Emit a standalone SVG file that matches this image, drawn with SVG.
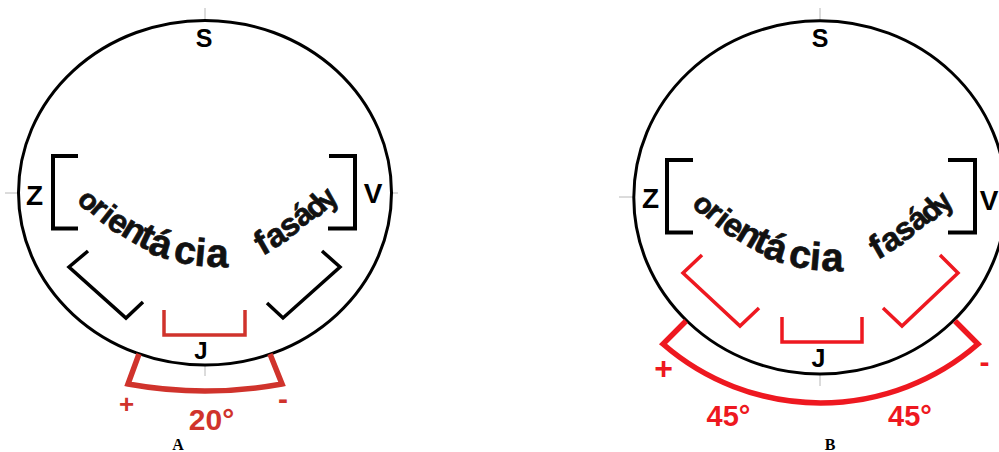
<svg xmlns="http://www.w3.org/2000/svg" width="999" height="452" viewBox="0 0 999 452">
<style>
.ring{fill:none;stroke:#000;stroke-width:3}
.tick{stroke:#b8b8b8;stroke-width:1}
.brk{fill:none;stroke:#000;stroke-width:4;stroke-linejoin:miter}
.sbrk{fill:none;stroke:#000;stroke-width:3.5;stroke-linejoin:miter}
.rA{fill:none;stroke:#d0332c;stroke-width:3.5;stroke-linejoin:miter}
.rB{fill:none;stroke:#ee1820;stroke-width:3.5;stroke-linejoin:miter}
.arcA{fill:none;stroke:#d0332c;stroke-width:5.5;stroke-linejoin:miter}
.arcB{fill:none;stroke:#ee1820;stroke-width:5.5;stroke-linejoin:miter}
.t{font-family:"Liberation Sans",Arial,sans-serif;font-weight:bold;fill:#000}
.arch{font-family:"Liberation Sans",Arial,sans-serif;font-weight:bold;fill:#111;stroke:#111;stroke-width:0.7}
.tA{font-family:"Liberation Sans",Arial,sans-serif;font-weight:bold;fill:#d0332c}
.tB{font-family:"Liberation Sans",Arial,sans-serif;font-weight:bold;fill:#ee1820}
.cap{font-family:"Liberation Serif","Times New Roman",serif;font-weight:bold;font-size:16px;fill:#000;text-anchor:middle}
</style>
<defs>
<g id="word">
<text class="arch"><tspan x="76" y="201" rotate="45" font-size="29">o</tspan><tspan x="89" y="211" rotate="42" font-size="30">r</tspan><tspan x="98.5" y="220" rotate="38" font-size="31">i</tspan><tspan x="105" y="225.5" rotate="35" font-size="33">e</tspan><tspan x="119.5" y="234.5" rotate="31" font-size="35">n</tspan><tspan x="136.5" y="245" rotate="25" font-size="37">t</tspan><tspan x="147" y="253" rotate="17" font-size="39">á</tspan><tspan x="172.5" y="261.5" rotate="10" font-size="39">c</tspan><tspan x="194" y="265.5" rotate="5" font-size="39">i</tspan><tspan x="206" y="266.5" rotate="2" font-size="40">a</tspan> <tspan x="262.5" y="256" rotate="-30" font-size="34">f</tspan><tspan x="273.5" y="249.5" rotate="-33" font-size="33">a</tspan><tspan x="288" y="239" rotate="-36" font-size="32">s</tspan><tspan x="302" y="228" rotate="-39" font-size="31">á</tspan><tspan x="315.5" y="220" rotate="-43" font-size="30">d</tspan><tspan x="329" y="210.5" rotate="-50" font-size="29">y</tspan></text>
</g>
</defs>

<g id="diagram-A">
  <g id="A-axes">
    <line class="tick" x1="205" y1="8" x2="205" y2="20"/>
    <line class="tick" x1="5" y1="193" x2="19" y2="193"/>
    <line class="tick" x1="391" y1="193" x2="398" y2="193"/>
    <line class="tick" x1="205" y1="365" x2="205" y2="376"/>
  </g>
  <g id="A-circle"><ellipse class="ring" cx="205" cy="192.7" rx="186.5" ry="172.3"/></g>
  <g id="A-S"><text class="t" x="204" y="47" font-size="25" text-anchor="middle">S</text></g>
  <g id="A-Z"><text class="t" x="34.5" y="205" font-size="28" text-anchor="middle">Z</text></g>
  <g id="A-V"><text class="t" x="373" y="203" font-size="28" text-anchor="middle">V</text></g>
  <g id="A-bracket-west"><polyline class="brk" points="78,156 53,156 53,228.5 78,228.5"/></g>
  <g id="A-bracket-east"><polyline class="brk" points="329,156 355,156 355,228.5 328,228.5"/></g>
  <g id="A-bracket-sw"><polyline class="sbrk" points="88,251 69,267 126,318 143,302"/></g>
  <g id="A-bracket-se"><polyline class="sbrk" points="322,251 340,267 283,318 267,303"/></g>
  <g id="A-bracket-south"><polyline class="rA" points="164,310 164,335 245,335 245,310"/></g>
  <g id="A-J"><text class="t" x="201" y="359" font-size="24" text-anchor="middle">J</text></g>
  <g id="A-text"><use href="#word"/></g>
  <g id="A-range">
    <path class="arcA" d="M139,354 L128,384 A430,430 0 0 0 282,384 L270,354"/>
    <text class="tA" x="126.5" y="412.5" font-size="26" text-anchor="middle">+</text>
    <text class="tA" x="283" y="408.5" font-size="30" text-anchor="middle">-</text>
    <text class="tA" x="211.5" y="429.5" font-size="30" text-anchor="middle">20°</text>
  </g>
  <g id="A-caption"><text class="cap" x="178" y="450">A</text></g>
</g>

<g id="diagram-B">
  <g id="B-axes">
    <line class="tick" x1="820" y1="8" x2="820" y2="20"/>
    <line class="tick" x1="619" y1="197" x2="633" y2="197"/>
    <line class="tick" x1="820" y1="374" x2="820" y2="386"/>
  </g>
  <g id="B-circle"><ellipse class="ring" cx="820" cy="197.4" rx="186.2" ry="176.6"/></g>
  <g id="B-S"><text class="t" x="820" y="47" font-size="25" text-anchor="middle">S</text></g>
  <g id="B-Z"><text class="t" x="650.5" y="208" font-size="28" text-anchor="middle">Z</text></g>
  <g id="B-V"><text class="t" x="989" y="210" font-size="28" text-anchor="middle">V</text></g>
  <g id="B-bracket-west"><polyline class="brk" points="693,160 667,160 667,232.5 693,232.5"/></g>
  <g id="B-bracket-east"><polyline class="brk" points="948,160 975,160 975,232.5 948,232.5"/></g>
  <g id="B-bracket-sw"><polyline class="rB" points="702,255 683,273 740,326 759,308"/></g>
  <g id="B-bracket-se"><polyline class="rB" points="940,255 958,273 902,326 883,308"/></g>
  <g id="B-bracket-south"><polyline class="rB" points="782,317 782,342 862,342 862,317"/></g>
  <g id="B-J"><text class="t" x="818.5" y="367" font-size="25" text-anchor="middle">J</text></g>
  <g id="B-text"><use href="#word" transform="translate(615,4)"/></g>
  <g id="B-range">
    <path class="arcB" d="M686,321 L663,344 A240,240 0 0 0 978,344 L955,321"/>
    <text class="tB" x="663.5" y="378.5" font-size="32" text-anchor="middle">+</text>
    <text class="tB" x="984.5" y="371.5" font-size="30" text-anchor="middle">-</text>
    <text class="tB" x="728.5" y="425.5" font-size="29" text-anchor="middle">45°</text>
    <text class="tB" x="910" y="425.5" font-size="29" text-anchor="middle">45°</text>
  </g>
  <g id="B-caption"><text class="cap" x="830" y="450">B</text></g>
</g>
</svg>
